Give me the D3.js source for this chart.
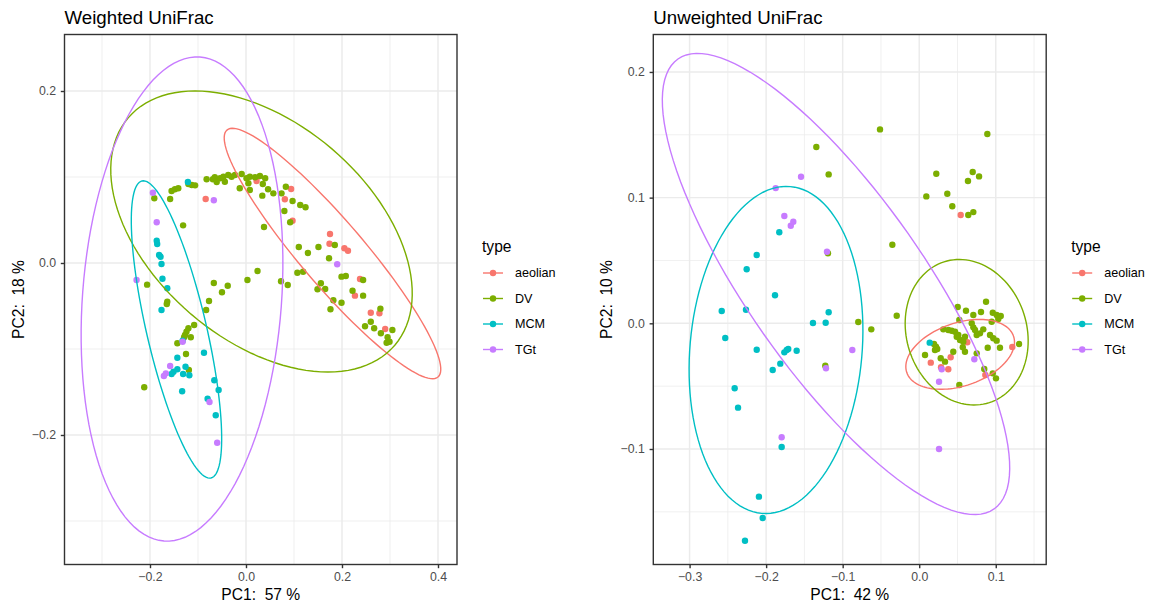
<!DOCTYPE html>
<html>
<head>
<meta charset="utf-8">
<script src="https://cdn.jsdelivr.net/npm/d3@7"></script>
<style>
  body { margin: 0; background: #fff; }
  svg { display: block; font-family: "Liberation Sans", Arial, Helvetica, sans-serif; }
</style>
</head>
<body>
<svg id="chart" width="1153" height="608"></svg>
<script>
// groups and colours (ggplot default hue palette)
const types = ["aeolian", "DV", "MCM", "TGt"];
const typeColors = ["#F8766D", "#7CAE00", "#00BFC4", "#C77CFF"];

// ---- Weighted UniFrac: PC1 / PC2 scores ----
const wAeolian = [[-0.084,0.0744],[0.022,0.0953],[0.094,0.086],[0.081,0.0741],[0.097,0.0492],[0.175,0.0337],[0.174,0.0224],[0.205,0.0171],[0.2125,0.0143],[0.2375,-0.0186],[0.227,-0.038],[0.26,-0.0578],[0.278,-0.0585],[0.29,-0.0767]];
const wDV = [[-0.191,0.0752],[-0.158,0.0744],[-0.155,0.0837],[-0.148,0.0857],[-0.141,0.0869],[-0.12,0.0919],[-0.113,0.0907],[-0.106,0.0903],[-0.082,0.0973],[-0.069,0.0973],[-0.065,0.0997],[-0.061,0.0942],[-0.054,0.0985],[-0.047,0.1003],[-0.044,0.0945],[-0.037,0.1023],[-0.03,0.1003],[-0.023,0.1023],[-0.131,0.0438],[-0.206,-0.0252],[-0.067,-0.0233],[-0.038,-0.0264],[-0.05,-0.0341],[-0.009,0.1035],[0.001,0.0985],[0.008,0.1003],[0.019,0.0997],[0.029,0.1012],[0.04,0.0985],[0.005,0.0927],[-0.013,0.0869],[0.008,0.0849],[0.035,0.0919],[0.046,0.0857],[0.057,0.081],[0.074,0.081],[0.083,0.0887],[0.034,0.0783],[0.097,0.0721],[0.113,0.0674],[0.124,0.0648],[0.08,0.0605],[0.092,0.0473],[0.0375,0.0419],[0.11,0.0186],[0.129,0.0116],[0.151,0.0186],[0.185,0.0209],[0.173,0.0055],[0.024,-0.0093],[0.003,-0.0198],[0.073,-0.0213],[0.087,-0.0256],[0.107,-0.0113],[0.119,-0.0101],[0.199,-0.0159],[0.208,-0.0151],[0.244,-0.0198],[0.156,-0.0236],[0.149,-0.0306],[0.165,-0.0302],[0.222,-0.0322],[0.244,-0.038],[0.182,-0.0434],[0.199,-0.0462],[0.176,-0.0538],[0.28,-0.0531],[0.26,-0.0683],[0.248,-0.0736],[0.267,-0.0759],[0.281,-0.0817],[0.305,-0.0779],[0.295,-0.0864],[0.299,-0.0915],[0.293,-0.0927],[-0.164,-0.045],[-0.165,-0.0477],[-0.077,-0.0442],[-0.083,-0.0547],[-0.108,-0.0721],[-0.12,-0.0759],[-0.124,-0.0799],[-0.127,-0.0837],[-0.129,-0.0864],[-0.115,-0.0864],[-0.143,-0.0934],[-0.125,-0.1058],[-0.119,-0.1244],[-0.212,-0.1445]];
const wMCM = [[-0.121,0.0942],[-0.186,0.0259],[-0.185,0.0221],[-0.181,0.0093],[-0.178,0.0073],[-0.176,-0.0012],[-0.174,-0.0183],[-0.164,-0.0294],[-0.176,-0.0547],[-0.132,-0.0903],[-0.0875,-0.1043],[-0.143,-0.1101],[-0.126,-0.1206],[-0.143,-0.1236],[-0.151,-0.1264],[-0.155,-0.1291],[-0.131,-0.1291],[-0.118,-0.1306],[-0.066,-0.1364],[-0.057,-0.1477],[-0.133,-0.1492],[-0.08,-0.1578],[-0.063,-0.1771]];
const wTGt = [[-0.194,0.0817],[-0.067,0.0729],[-0.186,0.0473],[-0.228,-0.0198],[0.19,-0.0015],[-0.132,-0.0915],[-0.158,-0.1198],[-0.167,-0.1283],[-0.171,-0.1314],[-0.076,-0.1616],[-0.06,-0.209]];
// stat_ellipse outlines: centre, end of one semi-axis, end of the other
const wEllipses = [
  { type: "aeolian", c: [0.1802, 0.011], m: [0.4, -0.1326], n: [0.231, 0.0351] },
  { type: "DV", c: [0.0323, 0.0366], m: [0.31, -0.0956], n: [0.179, 0.1327] },
  { type: "MCM", c: [-0.1448, -0.0773], m: [-0.0729, -0.25], n: [-0.084, -0.0694] },
  { type: "TGt", c: [-0.1333, -0.0419], m: [-0.0958, 0.2395], n: [0.0735, -0.0505] }
];

// ---- Unweighted UniFrac ----
const uAeolian = [[0.0542,0.0862],[0.0628,-0.0151],[0.1216,-0.0189],[0.0411,-0.027],[0.0151,-0.0313],[0.0285,-0.035],[0.038,-0.0366],[0.0864,-0.0411]];
const uDV = [[-0.0512,0.1543],[-0.1344,0.1403],[-0.1183,0.1185],[-0.1192,0.0557],[-0.0796,0.001],[-0.0626,-0.0048],[-0.1227,-0.0337],[0.089,0.1506],[0.0223,0.119],[0.0699,0.1204],[0.0782,0.1169],[0.0637,0.1132],[0.0367,0.1031],[0.0093,0.101],[0.0432,0.0931],[0.0641,0.0862],[0.0707,0.0885],[-0.0351,0.0625],[-0.0294,0.006],[0.0873,0.0172],[0.0503,0.013],[0.0611,0.01],[0.0707,0.0066],[0.0807,0.009],[0.0961,0.0084],[0.1012,0.0066],[0.1065,0.0058],[0.1033,0.0034],[0.0947,0.0013],[0.0524,0.0026],[0.0315,-0.0048],[0.038,-0.0053],[0.0424,-0.0059],[0.0468,-0.0067],[0.0686,0],[0.0707,-0.0032],[0.0729,-0.0053],[0.0837,-0.0048],[0.0794,-0.008],[0.0751,-0.0093],[0.049,-0.0107],[0.0533,-0.0133],[0.0511,-0.0093],[0.0598,-0.0107],[0.0576,-0.0146],[0.0925,-0.0093],[0.0968,-0.0119],[0.1012,-0.0138],[0.0193,-0.0165],[0.0219,-0.0186],[0.0236,-0.0204],[0.0206,-0.0212],[0.0445,-0.0226],[0.0569,-0.0191],[0.0598,-0.0226],[0.0751,-0.0239],[0.0895,-0.0194],[0.1055,-0.0194],[0.1304,-0.0165],[0.0076,-0.0252],[0.0281,-0.0278],[0.0337,-0.0305],[0.085,-0.0364],[0.0961,-0.0398],[0.1003,-0.0438],[0.0524,-0.0491]];
const uMCM = [[-0.1828,0.0724],[-0.2123,0.0543],[-0.2254,0.043],[-0.1884,0.0223],[-0.258,0.0098],[-0.2263,0.0108],[-0.1183,0.0088],[-0.1388,0.0002],[-0.1222,0.0005],[-0.2534,-0.0117],[-0.2123,-0.021],[-0.1762,-0.0231],[-0.1731,-0.0212],[-0.1711,-0.0204],[-0.1601,-0.0218],[-0.1815,-0.0321],[-0.1914,-0.0372],[-0.2411,-0.0517],[-0.2367,-0.0671],[-0.1797,-0.0984],[-0.2094,-0.1379],[-0.2045,-0.1549],[-0.2276,-0.173],[0.0137,-0.0154]];
const uTGt = [[-0.1544,0.1166],[-0.1875,0.1076],[-0.1762,0.0854],[-0.1678,0.0776],[-0.1645,0.0808],[-0.1205,0.057],[-0.0874,-0.0212],[-0.1218,-0.0358],[-0.1797,-0.0907],[0.072,-0.0286],[0.0294,-0.0366],[0.0259,-0.0465],[0.0259,-0.1]];
const uEllipses = [
  { type: "aeolian", c: [0.0535, -0.0247], m: [0.1232, -0.0102], n: [0.0669, -0.0484] },
  { type: "DV", c: [0.062, -0.0071], m: [0.0324, 0.0489], n: [0.1367, 0.0076] },
  { type: "MCM", c: [-0.1871, -0.0212], m: [-0.1684, 0.1088], n: [-0.0751, -0.0272] },
  { type: "TGt", c: [-0.1087, 0.0313], m: [0.0978, -0.1477], n: [-0.0146, 0.0715] }
];

const svg = d3.select("#chart");
const color = d3.scaleOrdinal().domain(types).range(typeColors);

function drawPanel(opt) {
  const g = svg.append("g");
  const x = d3.scaleLinear().domain(opt.xDomain).range([opt.left, opt.right]);
  const y = d3.scaleLinear().domain(opt.yDomain).range([opt.bottom, opt.top]);

  // grid (minor then major)
  g.selectAll(".vminor").data(opt.xMinor).enter().append("line")
    .attr("x1", d => x(d)).attr("x2", d => x(d)).attr("y1", opt.top).attr("y2", opt.bottom)
    .attr("stroke", "#EBEBEB").attr("stroke-width", 0.75);
  g.selectAll(".hminor").data(opt.yMinor).enter().append("line")
    .attr("y1", d => y(d)).attr("y2", d => y(d)).attr("x1", opt.left).attr("x2", opt.right)
    .attr("stroke", "#EBEBEB").attr("stroke-width", 0.75);
  g.selectAll(".vmajor").data(opt.xTicks).enter().append("line")
    .attr("x1", d => x(d)).attr("x2", d => x(d)).attr("y1", opt.top).attr("y2", opt.bottom)
    .attr("stroke", "#EBEBEB").attr("stroke-width", 1.45);
  g.selectAll(".hmajor").data(opt.yTicks).enter().append("line")
    .attr("y1", d => y(d)).attr("y2", d => y(d)).attr("x1", opt.left).attr("x2", opt.right)
    .attr("stroke", "#EBEBEB").attr("stroke-width", 1.45);

  const clipId = "clip-" + opt.id;
  svg.append("clipPath").attr("id", clipId).append("rect")
    .attr("x", opt.left).attr("y", opt.top)
    .attr("width", opt.right - opt.left).attr("height", opt.bottom - opt.top);
  const plot = g.append("g").attr("clip-path", "url(#" + clipId + ")");

  // points, one layer per type
  types.forEach(function(t, i) {
    plot.selectAll(".pt-" + t).data(opt.points[i]).enter().append("circle")
      .attr("cx", d => x(d[0]))
      .attr("cy", d => y(d[1]))
      .attr("r", 3.2)
      .attr("fill", color(t));
  });

  // ellipses
  const steps = d3.range(0, 361, 3).map(a => a * Math.PI / 180);
  const line = d3.line().x(d => x(d[0])).y(d => y(d[1]));
  opt.ellipses.forEach(function(e) {
    const pts = steps.map(function(a) {
      return [
        e.c[0] + Math.cos(a) * (e.m[0] - e.c[0]) + Math.sin(a) * (e.n[0] - e.c[0]),
        e.c[1] + Math.cos(a) * (e.m[1] - e.c[1]) + Math.sin(a) * (e.n[1] - e.c[1])
      ];
    });
    plot.append("path").attr("d", line(pts))
      .attr("fill", "none").attr("stroke", color(e.type)).attr("stroke-width", 1.4);
  });

  // panel border
  g.append("rect").attr("x", opt.left).attr("y", opt.top)
    .attr("width", opt.right - opt.left).attr("height", opt.bottom - opt.top)
    .attr("fill", "none").attr("stroke", "#333333").attr("stroke-width", 1.4);

  // axes
  const xAxis = g.append("g").attr("transform", "translate(0," + opt.bottom + ")")
    .call(d3.axisBottom(x).tickValues(opt.xTicks).tickFormat(d3.format(".1f")).tickSize(3.7).tickPadding(4.5));
  const yAxis = g.append("g").attr("transform", "translate(" + opt.left + ",0)")
    .call(d3.axisLeft(y).tickValues(opt.yTicks).tickFormat(d3.format(".1f")).tickSize(3.7).tickPadding(4.8));
  [xAxis, yAxis].forEach(function(a) {
    a.select(".domain").remove();
    a.selectAll(".tick line").attr("stroke", "#333333").attr("stroke-width", 1.4);
    a.selectAll(".tick text").attr("fill", "#4D4D4D").style("font-size", "12.3px")
      .style("font-family", "'Liberation Sans', Arial, Helvetica, sans-serif");
  });

  // titles
  g.append("text").attr("x", opt.left).attr("y", 23.5)
    .style("font-size", "18.7px").attr("fill", "#000").text(opt.title);
  g.append("text").attr("x", (opt.left + opt.right) / 2).attr("y", 599.5)
    .attr("text-anchor", "middle").style("font-size", "15.6px").style("white-space", "pre")
    .attr("fill", "#000").text(opt.xLabel);
  g.append("text")
    .attr("transform", "translate(" + (opt.left - 41) + "," + ((opt.top + opt.bottom) / 2) + ") rotate(-90)")
    .attr("text-anchor", "middle").style("font-size", "15.6px").style("white-space", "pre")
    .attr("fill", "#000").text(opt.yLabel);

  // legend
  const lx = opt.right + 25;
  const leg = g.append("g");
  leg.append("text").attr("x", lx).attr("y", 252).style("font-size", "15.6px").text("type");
  const rows = leg.selectAll(".key").data(types).enter().append("g")
    .attr("transform", (d, i) => "translate(" + lx + "," + (273 + i * 25.5) + ")");
  rows.append("line").attr("x1", 1).attr("x2", 21).attr("y1", 0).attr("y2", 0)
    .attr("stroke", d => color(d)).attr("stroke-width", 1.4);
  rows.append("circle").attr("cx", 11).attr("cy", 0).attr("r", 3.2).attr("fill", d => color(d));
  rows.append("text").attr("x", 33).attr("y", 0).attr("dy", "0.35em")
    .style("font-size", "12.6px").attr("fill", "#000").text(d => d);
}

drawPanel({
  id: "w", title: "Weighted UniFrac", xLabel: "PC1:  57 %", yLabel: "PC2:  18 %",
  left: 64.5, right: 457, top: 34.5, bottom: 564.5,
  xDomain: [-0.3781, 0.4396], yDomain: [-0.3506, 0.2657],
  xTicks: [-0.2, 0, 0.2, 0.4], xMinor: [-0.3, -0.1, 0.1, 0.3],
  yTicks: [-0.2, 0, 0.2], yMinor: [-0.3, -0.1, 0.1],
  points: [wAeolian, wDV, wMCM, wTGt], ellipses: wEllipses
});

drawPanel({
  id: "u", title: "Unweighted UniFrac", xLabel: "PC1:  42 %", yLabel: "PC2:  10 %",
  left: 653.3, right: 1046.2, top: 34.5, bottom: 564.5,
  xDomain: [-0.3474, 0.1659], yDomain: [-0.1919, 0.2298],
  xTicks: [-0.3, -0.2, -0.1, 0, 0.1], xMinor: [-0.25, -0.15, -0.05, 0.05, 0.15],
  yTicks: [-0.1, 0, 0.1, 0.2], yMinor: [-0.15, -0.05, 0.05, 0.15],
  points: [uAeolian, uDV, uMCM, uTGt], ellipses: uEllipses
});
</script>
</body>
</html>
